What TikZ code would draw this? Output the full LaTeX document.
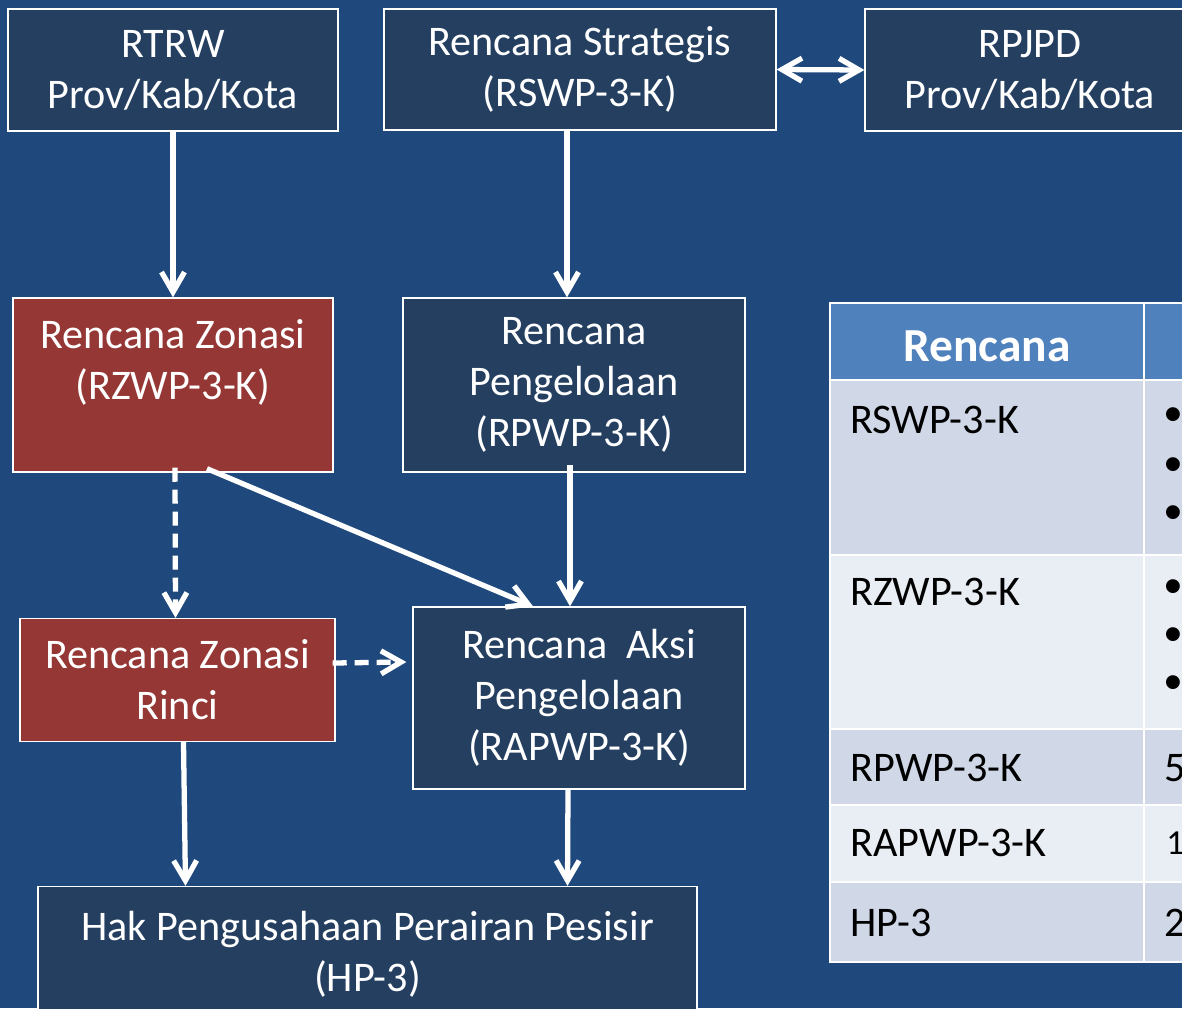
\documentclass[tikz,border=0pt]{standalone}
\usepackage{fontspec}
\setmainfont{Carlito}
\newfontfamily\pelurufont{Liberation Sans}
\usetikzlibrary{arrows.meta,calc,positioning}
\definecolor{latar}{HTML}{1F497D}
\definecolor{kotakbiru}{HTML}{243F60}
\definecolor{kotakmerah}{HTML}{953735}
\definecolor{kepala}{HTML}{4F81BD}
\definecolor{baris1}{HTML}{D0D8E8}
\definecolor{baris2}{HTML}{E9EDF4}
\tikzset{
  kotak/.style={rectangle,draw=white,fill=kotakbiru,line width=0.8pt,text=white,align=center,inner sep=0pt,font=\fontsize{24}{29}\selectfont},
  zona/.style={kotak,fill=kotakmerah},
  panah/.style={draw=white,line width=3pt,-{Straight Barb[length=4mm,width=4.6mm]}},
  panahputus/.style={panah,dash pattern=on 8pt off 4.5pt},
  panahdua/.style={panah,{Straight Barb[length=4mm,width=4.6mm]}-{Straight Barb[length=4mm,width=4.6mm]}},
  sel/.style={rectangle,draw=white,line width=1.5pt,inner sep=0pt,fill=baris1},
  isi/.style={font=\fontsize{24}{28}\selectfont,text=black,inner sep=0pt},
  peluru/.style={font=\pelurufont\fontsize{29}{28}\selectfont,text=black,inner sep=0pt},
}
\begin{document}
\begin{tikzpicture}[x=0.02cm,y=-0.02cm]
\fill[latar] (0,0) rectangle (1182,1008);
\useasboundingbox (0,0) rectangle (1182,1008);
% kotak-kotak rencana
\node[kotak,minimum width=6.6cm,minimum height=2.44cm] (rtrw) at (173,70) {RTRW\\Prov/Kab/Kota};
\node[kotak,minimum width=7.84cm,minimum height=2.42cm] (strategis) at (580,69.5) {Rencana Strategis\\(RSWP-3-K)};
\node[kotak,minimum width=6.6cm,minimum height=2.44cm] (rpjpd) at (1030,70) {RPJPD\\Prov/Kab/Kota};
\node[zona,minimum width=6.4cm,minimum height=3.48cm] (zonasi) at (173,385) {Rencana Zonasi\\(RZWP-3-K)\\ \mbox{}};
\node[kotak,minimum width=6.84cm,minimum height=3.48cm] (pengelolaan) at (574,385) {Rencana\\Pengelolaan\\(RPWP-3-K)};
\node[zona,minimum width=6.3cm,minimum height=2.46cm] (rinci) at (177.5,680) {Rencana Zonasi\\Rinci};
\node[kotak,minimum width=6.64cm,minimum height=3.64cm] (aksi) at (579,698) {Rencana\ \ Aksi\\Pengelolaan\\(RAPWP-3-K)};
\node[kotak,minimum width=13.18cm,minimum height=2.7cm] (hak) at (367.5,954) {Hak Pengusahaan Perairan Pesisir\\(HP-3)};
% panah
\draw[panah] (rtrw.south) -- (zonasi.north);
\draw[panah] ($(strategis.south)+(-13,0)$) -- ($(pengelolaan.north)+(-7,0)$);
\draw[panahdua] (strategis.east) -- (rpjpd.west);
\draw[panahputus] ($(zonasi.south)+(2,-5)$) -- ($(rinci.north)+(-2,0)$);
\draw[panah] ($(zonasi.south)+(34,-4)$) -- ($(aksi.north)+(-46,0)$);
\draw[panah] ($(pengelolaan.south)+(-4,-8)$) -- ($(aksi.north)+(-9,0)$);
\draw[panahputus] ($(rinci.east)+(-3,-17)$) -- ($(aksi.west)+(-6,-36)$);
\draw[panah] ($(rinci.south)+(6,0)$) -- ($(hak.north)+(-182,0)$);
\draw[panah] ($(aksi.south)+(-11,0)$) -- ($(hak.north)+(200,0)$);
% tabel
\node[sel,fill=kepala,minimum width=6.28cm,minimum height=1.54cm] (kepalaA) at (987,341.5) {};
\node[sel,fill=kepala,minimum width=1.72cm,minimum height=1.54cm] (kepalaB) at (1187,341.5) {};
\node[sel,minimum width=6.28cm,minimum height=3.5cm] (selA1) at (987,467.5) {};
\node[sel,minimum width=1.72cm,minimum height=3.5cm] (selB1) at (1187,467.5) {};
\node[sel,fill=baris2,minimum width=6.28cm,minimum height=3.48cm] (selA2) at (987,642) {};
\node[sel,fill=baris2,minimum width=1.72cm,minimum height=3.48cm] (selB2) at (1187,642) {};
\node[sel,minimum width=6.28cm,minimum height=1.52cm] (selA3) at (987,767) {};
\node[sel,minimum width=1.72cm,minimum height=1.52cm] (selB3) at (1187,767) {};
\node[sel,fill=baris2,minimum width=6.28cm,minimum height=1.54cm] (selA4) at (987,843.5) {};
\node[sel,fill=baris2,minimum width=1.72cm,minimum height=1.54cm] (selB4) at (1187,843.5) {};
\node[sel,minimum width=6.28cm,minimum height=1.6cm] (selA5) at (987,922) {};
\node[sel,minimum width=1.72cm,minimum height=1.6cm] (selB5) at (1187,922) {};
\node[isi,text=white,font=\fontsize{27}{30}\selectfont\bfseries] (judul) at (987,346) {Rencana};
\node[isi,anchor=west] (rswp) at (850,420) {RSWP-3-K};
\node[isi,anchor=west] (rzwp) at (850,592) {RZWP-3-K};
\node[isi,anchor=west] (rpwp) at (850,768) {RPWP-3-K};
\node[isi,anchor=west] (rapwp) at (850,843) {RAPWP-3-K};
\node[isi,anchor=west] (hp) at (850,923) {HP-3};
\foreach \y [count=\i] in {420,470,518,592,640,688}
  \node[peluru,anchor=west] (peluru\i) at (1164,\y) {•};
\node[isi,anchor=west] (a5) at (1164,768) {5};
\node[isi,anchor=west,font=\fontsize{20}{24}\selectfont] (a1) at (1166,843) {1};
\node[isi,anchor=west] (a2) at (1164,923) {2};
\end{tikzpicture}
\end{document}
